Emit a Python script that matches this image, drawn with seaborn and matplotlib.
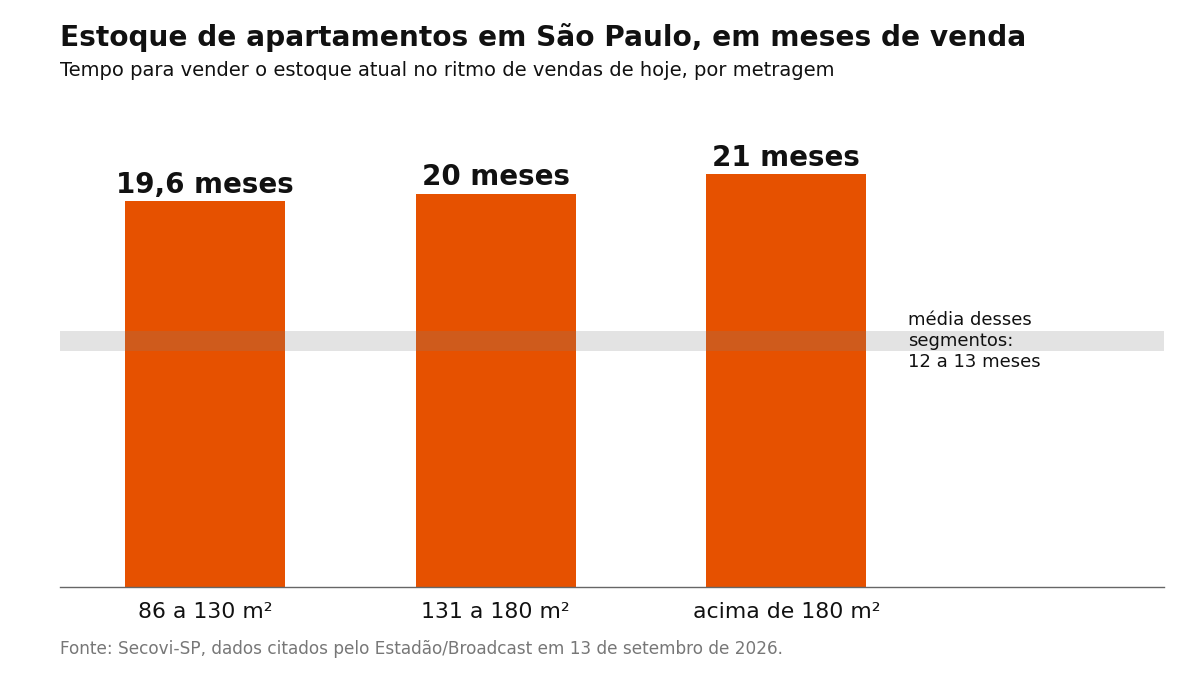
import matplotlib
matplotlib.use("Agg")
import matplotlib.pyplot as plt
import seaborn as sns
import pandas as pd

categories = ["86 a 130 m²", "131 a 180 m²", "acima de 180 m²"]
months = [19.6, 20, 21]
bar_labels = ["19,6 meses", "20 meses", "21 meses"]
avg_low, avg_high = 12, 13

sns.set_theme(style="white")
plt.rcParams['font.family'] = 'sans-serif'
plt.rcParams['font.sans-serif'] = ['DejaVu Sans']

df = pd.DataFrame({"cat": categories, "val": months})

fig = plt.figure(figsize=(12, 6.75), dpi=100)
ax = fig.add_axes([60/1200, 1-587/675, 1104/1200, (587-130)/675])

sns.barplot(data=df, x="cat", y="val", color="#e65100", saturation=1, width=0.55,
            linewidth=0, ax=ax, zorder=2)
ax.axhspan(avg_low, avg_high, color="#808080", alpha=0.22, lw=0, zorder=3)

for i, (v, t) in enumerate(zip(months, bar_labels)):
    ax.text(i, v + 0.12, t, ha="center", va="bottom", fontsize=20, fontweight="bold", color="#111111")

ax.text(2.42, 12.5, "média desses\nsegmentos:\n12 a 13 meses", ha="left", va="center",
        fontsize=13, color="#111111", linespacing=1.2)

ax.set_xlim(-0.5, 3.3)
ax.set_ylim(0, 23.23)
ax.set_xlabel("")
ax.set_ylabel("")
ax.set_yticks([])
ax.tick_params(axis="x", length=0, labelsize=15.8, pad=11, colors="#111111")
for s in ["top", "right", "left"]:
    ax.spines[s].set_visible(False)
ax.spines["bottom"].set_color("#666666")
ax.spines["bottom"].set_linewidth(1)

fig.text(60/1200, 1-38/675, "Estoque de apartamentos em São Paulo, em meses de venda",
         fontsize=20.2, fontweight="bold", ha="left", va="center", color="#111111")
fig.text(60/1200, 1-71/675, "Tempo para vender o estoque atual no ritmo de vendas de hoje, por metragem",
         fontsize=14, ha="left", va="center", color="#111111")
fig.text(60/1200, 1-649/675, "Fonte: Secovi-SP, dados citados pelo Estadão/Broadcast em 13 de setembro de 2026.",
         fontsize=12.2, ha="left", va="center", color="#777777")

fig.savefig("out.png", dpi=100)
